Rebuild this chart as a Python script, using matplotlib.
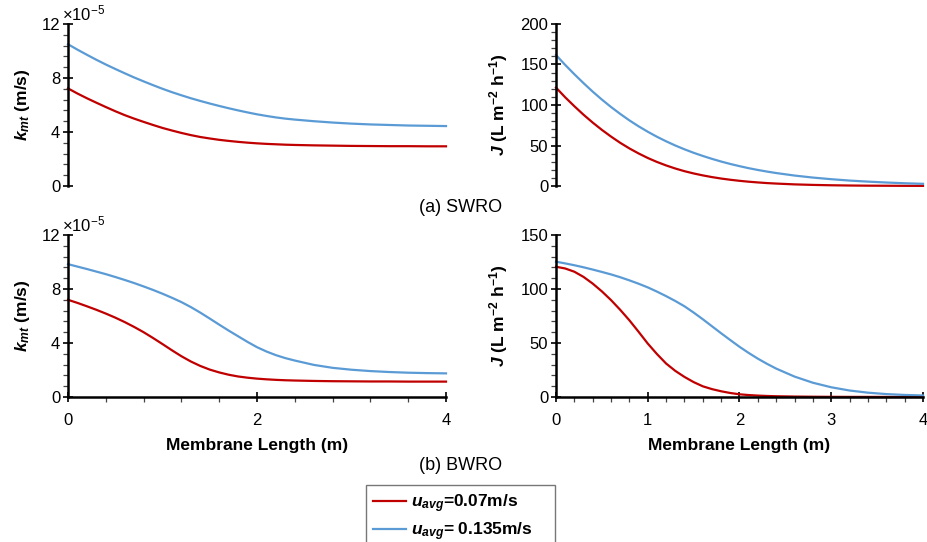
import matplotlib
matplotlib.use('Agg')
import matplotlib.pyplot as plt
from matplotlib.ticker import MultipleLocator

plt.rcParams['font.family'] = ['Liberation Sans', 'DejaVu Sans']
plt.rcParams['mathtext.fontset'] = 'custom'
plt.rcParams['mathtext.it'] = 'Liberation Sans:italic:bold'
plt.rcParams['mathtext.rm'] = 'Liberation Sans'
plt.rcParams['mathtext.bf'] = 'Liberation Sans:bold'

# position along the membrane (m)
length = [0.0, 0.1, 0.2, 0.3, 0.4, 0.5, 0.6, 0.7, 0.8, 0.9, 1.0, 1.1, 1.2,
          1.3, 1.4, 1.5, 1.6, 1.7, 1.8, 1.9, 2.0, 2.1, 2.2, 2.3, 2.4,
          2.6, 2.8, 3.0, 3.2, 3.4, 3.6, 3.8, 4.0]

# mass transfer coefficient, x1e-5 m/s
kmt_swro_slow = [7.23, 6.85, 6.50, 6.17, 5.85, 5.54, 5.25, 4.99, 4.75, 4.52, 4.30,
                 4.11, 3.93, 3.77, 3.63, 3.52, 3.42, 3.34, 3.27, 3.21, 3.16,
                 3.12, 3.09, 3.06, 3.04, 3.01, 2.99, 2.97, 2.96, 2.95, 2.95, 2.94, 2.94]
kmt_swro_fast = [10.50, 10.10, 9.72, 9.35, 9.00, 8.67, 8.35, 8.04, 7.75, 7.47, 7.20,
                 6.95, 6.72, 6.50, 6.30, 6.11, 5.93, 5.76, 5.60, 5.45, 5.31,
                 5.19, 5.08, 4.99, 4.92, 4.80, 4.70, 4.62, 4.56, 4.52, 4.48, 4.46, 4.44]
kmt_bwro_slow = [7.20, 6.97, 6.72, 6.46, 6.18, 5.88, 5.55, 5.19, 4.80, 4.37, 3.92,
                 3.46, 3.02, 2.63, 2.30, 2.03, 1.82, 1.65, 1.52, 1.43, 1.36,
                 1.31, 1.27, 1.24, 1.22, 1.19, 1.17, 1.16, 1.15, 1.15, 1.14, 1.14, 1.14]
kmt_bwro_fast = [9.84, 9.66, 9.48, 9.29, 9.10, 8.89, 8.67, 8.44, 8.19, 7.93, 7.65,
                 7.35, 7.03, 6.66, 6.25, 5.81, 5.36, 4.92, 4.50, 4.08, 3.69,
                 3.37, 3.10, 2.88, 2.70, 2.38, 2.16, 2.02, 1.92, 1.85, 1.80, 1.77, 1.75]

# permeate flux, L m-2 h-1
flux_swro_slow = [121.5, 109.5, 98.5, 88.0, 78.3, 69.3, 61.0, 53.3, 46.4, 40.2, 34.6,
                  29.7, 25.4, 21.6, 18.3, 15.5, 13.1, 11.0, 9.2, 7.7, 6.4,
                  5.3, 4.4, 3.6, 3.0, 2.0, 1.35, 0.9, 0.6, 0.4, 0.3, 0.2, 0.15]
flux_swro_fast = [161.7, 149.5, 138.0, 127.0, 116.5, 106.7, 97.5, 89.0, 81.0, 73.7, 67.0,
                  60.8, 55.2, 50.0, 45.3, 41.0, 37.1, 33.5, 30.2, 27.2, 24.5,
                  22.0, 19.8, 17.8, 16.0, 12.9, 10.4, 8.4, 6.7, 5.4, 4.3, 3.4, 2.7]
flux_bwro_slow = [120.6, 119.0, 116.0, 111.2, 105.0, 97.8, 89.7, 80.7, 71.0, 60.4, 49.5,
                  39.8, 31.0, 24.2, 18.6, 13.8, 9.9, 7.3, 5.3, 3.7, 2.5,
                  1.8, 1.3, 0.95, 0.7, 0.4, 0.25, 0.15, 0.1, 0.08, 0.06, 0.05, 0.05]
flux_bwro_fast = [125.3, 123.7, 122.0, 120.1, 118.0, 115.8, 113.5, 110.9, 108.0, 104.9, 101.5,
                  97.6, 93.4, 88.9, 84.0, 78.2, 72.0, 65.5, 59.0, 52.7, 46.5,
                  40.8, 35.5, 30.7, 26.3, 18.9, 13.2, 9.0, 6.0, 4.0, 2.7, 1.9, 1.4]

labels = [r'$u_{avg}$=0.07m/s', r'$u_{avg}$= 0.135m/s    ']
red = '#C00000'
blue = '#5B9BD5'

fig = plt.figure(figsize=(9.28, 5.42), dpi=100)

W, H = 928, 542
def box(x0, x1, y0, y1):
    return [x0 / W, 1 - y1 / H, (x1 - x0) / W, (y1 - y0) / H]

ax_tl = fig.add_axes(box(68, 446, 24, 186))
ax_tr = fig.add_axes(box(556, 923, 24, 186))
ax_bl = fig.add_axes(box(68, 446, 235, 397))
ax_br = fig.add_axes(box(556, 923, 235, 397))

panels = [
    (ax_tl, kmt_swro_slow, kmt_swro_fast, 12, 4, 0.8, True),
    (ax_tr, flux_swro_slow, flux_swro_fast, 200, 50, 10, False),
    (ax_bl, kmt_bwro_slow, kmt_bwro_fast, 12, 4, 0.8, True),
    (ax_br, flux_bwro_slow, flux_bwro_fast, 150, 50, 10, False),
]

for ax, slow, fast, ymax, ymaj, ymin, is_kmt in panels:
    l1, = ax.plot(length, slow, color=red, lw=1.6, label=labels[0], clip_on=False)
    l2, = ax.plot(length, fast, color=blue, lw=1.6, label=labels[1], clip_on=False)
    ax.set_xlim(0, 4)
    ax.set_ylim(0, ymax)
    ax.yaxis.set_major_locator(MultipleLocator(ymaj))
    ax.yaxis.set_minor_locator(MultipleLocator(ymin))
    for s in ['top', 'right']:
        ax.spines[s].set_visible(False)
    for s in ['left', 'bottom']:
        ax.spines[s].set_linewidth(1.8)
    ax.tick_params(axis='both', which='major', direction='inout', length=7,
                   width=1.2, labelsize=12)
    ax.tick_params(axis='y', which='major', pad=2)
    ax.tick_params(axis='x', which='major', pad=8)
    ax.tick_params(axis='both', which='minor', direction='out', length=3.5,
                   width=0.9, color='#444444')
    if is_kmt:
        ax.set_ylabel(r'$k_{mt}$ (m/s)', fontsize=12.5, fontweight='bold')
        ax.yaxis.set_label_coords(-0.095, 0.5)
        ax.text(-0.015, 1.02, r'×10$^{\mathregular{-5}}$', transform=ax.transAxes,
                fontsize=12, ha='left', va='baseline')
    else:
        ax.set_ylabel(r'$J$ (L m$^{\mathregular{-2}}$ h$^{\mathregular{-1}}$)',
                      fontsize=12.5, fontweight='bold')
        ax.yaxis.set_label_coords(-0.125, 0.5)

# top row shares the length axis with the bottom row
for ax in (ax_tl, ax_tr):
    ax.spines['bottom'].set_visible(False)
    ax.tick_params(axis='x', which='both', bottom=False, labelbottom=False)

ax_bl.xaxis.set_major_locator(MultipleLocator(2))
ax_bl.xaxis.set_minor_locator(MultipleLocator(0.4))
ax_br.xaxis.set_major_locator(MultipleLocator(1))
ax_br.xaxis.set_minor_locator(MultipleLocator(0.2))
for ax in (ax_bl, ax_br):
    ax.set_xlabel('Membrane Length (m)', fontsize=12.5, fontweight='bold', labelpad=7)

fig.text(461 / W, 1 - 207 / H, '(a) SWRO', fontsize=13, ha='center', va='center')
fig.text(461 / W, 1 - 466 / H, '(b) BWRO', fontsize=13, ha='center', va='center')

leg = fig.legend([l1, l2], labels, loc='upper left',
                 bbox_to_anchor=(366 / W, 1 - 485 / H), borderaxespad=0,
                 prop={'weight': 'bold', 'size': 12.5}, handlelength=1.9,
                 handletextpad=0.3, labelspacing=0.35, fancybox=False,
                 borderpad=0.4)
leg.get_frame().set_edgecolor('#555555')
leg.get_frame().set_linewidth(1.0)

fig.savefig('out.png', dpi=100)
